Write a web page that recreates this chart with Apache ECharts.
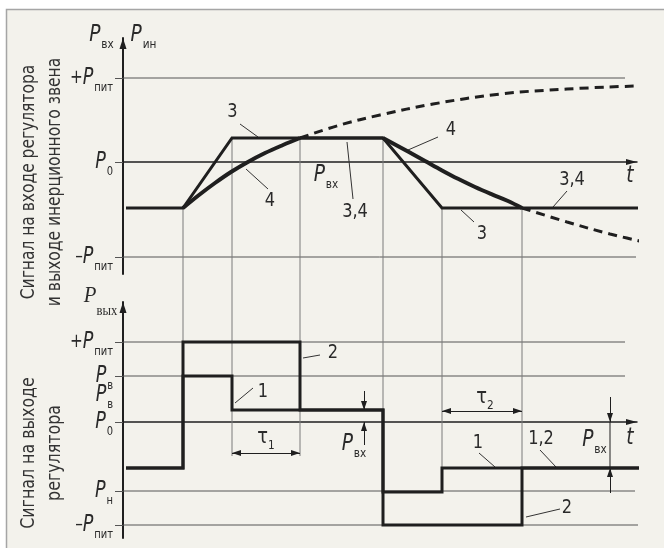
<!DOCTYPE html>
<html>
<head>
<meta charset="utf-8">
<script src="https://cdn.jsdelivr.net/npm/echarts@6/dist/echarts.min.js"></script>
<style>
  html, body { margin: 0; padding: 0; background: #ffffff; }
  #chart { width: 664px; height: 548px; }
</style>
</head>
<body>
<div id="chart"></div>
<script>
// ---------- data (t in time units, levels in signal units, P0 = 0) ----------

// upper panel: regulator input P_вх (trapezoid 3) and inertial-link output P_ин (curve 4)
const upperTickValues = [21, 0, -23.75];
const upperTickLabels = ['{pm|+}{p|P}{s|пит}', '{p|P}{s|0}', '{pm|–}{p|P}{s|пит}'];
const upperRefLevels = [21, -23.75];
const upperRefEnds = [50.2, 51.3];

const curve3 = [[0.3, -11.5], [6.0, -11.5], [10.9, 6], [26.0, 6], [31.9, -11.5], [51.5, -11.5]];
const curve4Rise = [[6.0, -11.5], [7.6, -8.25], [9.2, -5.25], [10.8, -2.5], [12.4, -0.1], [14.2, 2.25], [16.0, 4.25], [17.7, 6]];
const curve4Hold = [[17.7, 6], [26.0, 6]];
const curve4Fall = [[26.0, 6], [28.5, 2.6], [30.2, 0.25], [31.9, -2.1], [33.5, -4.2], [35.2, -6.25], [36.9, -8.1], [38.5, -9.75], [39.9, -11.5]];
const curve4RiseFree = [[17.7, 6], [21.7, 9.25], [25.7, 11.75], [31.0, 14.5], [37.7, 17], [44.4, 18.25], [51.2, 19]];
const curve4FallFree = [[39.9, -11.5], [44.4, -15], [48.7, -18], [53.0, -20.5]];

// lower panel: regulator output P_вых (steps 1 and 2)
const lowerTickValues = [20, 11.5, 6.75, 0, -17.25, -25.75];
const lowerTickLabels = ['{pm|+}{p|P}{s|пит}', '{p|P}{s|в}', '{p|P}{s|в}', '{p|P}{s|0}', '{p|P}{s|н}', '{pm|–}{p|P}{s|пит}'];
const lowerTickMarks = [20, 11.5, 0, -17.25, -25.75];
const lowerRefLevels = [20, 11.5, -17.25, -25.75];
const lowerRefEnds = [50.2, 50.2, 51.2, 52.7];

const output1 = [[0.3, -11.5], [6.0, -11.5], [6.0, 11.5], [10.9, 11.5], [10.9, 3], [26.0, 3], [26.0, -17.5], [31.9, -17.5], [31.9, -11.5], [51.9, -11.5]];
const output2 = [[0.3, -11.5], [6.0, -11.5], [6.0, 20], [17.7, 20], [17.7, 3], [26.0, 3], [26.0, -25.75], [39.9, -25.75], [39.9, -11.5], [51.9, -11.5]];

// projection lines: [t, upper level, lower level]
const projections = [[6.0, -11.5, 20], [10.9, 6, -8.5], [17.7, 6, -8.5], [26.0, 6, 3], [31.9, -11.5, -11.5], [39.9, -11.5, -11.5]];

// captions: [t, level, text]
const upperNotes = [
  [10.95, 12.5, '3'], [14.7, -9.6, '4'], [20.3, -3.25, '{p|P}{s|вх}'], [23.2, -12.5, '3,4'],
  [32.8, 8, '4'], [44.9, -4.5, '3,4'], [35.9, -18, '3'], [50.7, -3.5, '{t|t}'],
  [-2.15, 31.75, '{p|P}{s|вх}'], [2.05, 31.75, '{p|P}{s|ин}']
];
const upperLeaders = [
  [[11.7, 9.5], [13.5, 6.25]], [[14.5, -6.75], [12.3, -1.75]], [[23.0, -9.25], [22.4, 5]],
  [[31.5, 6.25], [28.5, 3]], [[44.4, -7.25], [43.0, -11.25]], [[35.1, -15], [33.8, -12]]
];
const lowerNotes = [
  [21.0, 17.25, '2'], [14.0, 7.5, '1'], [14.3, -3.75, '{tau|τ}{ts|1}'], [23.1, -5.6, '{p|P}{s|вх}'],
  [36.2, 6.25, '{tau|τ}{ts|2}'], [35.5, -5.25, '1'], [41.8, -4.25, '1,2'], [47.15, -4.6, '{p|P}{s|вх}'],
  [50.7, -4, '{t|t}'], [44.4, -21.5, '2'], [-2.25, 31.5, '{ps|P}{ss|вых}']
];
const lowerLeaders = [
  [[19.7, 16.75], [18.0, 16]], [[13.0, 8.5], [11.2, 4.75]], [[35.6, -7.75], [37.2, -11.25]],
  [[41.7, -7], [43.3, -11.25]], [[43.7, -21.75], [40.3, -23.75]]
];
// dimension arrows in the lower panel
const doubleArrows = [[[10.9, -7.75], [17.7, -7.75]], [[31.9, 2.75], [39.9, 2.75]]];
const singleArrows = [[[24.1, 7.75], [24.1, 3]], [[24.1, -5.75], [24.1, 0]], [[48.7, 6.25], [48.7, 0]], [[48.7, -17.75], [48.7, -11.5]]];
const plainDims = [[[48.7, 0], [48.7, -11.5]]];

// ---------- layout ----------
const PX = 4;                      // pixels per level unit, both panels
const GRID_LEFT = 123, GRID_W = 514, PANEL_H = 236;
const UP_TOP = 38, LOW_TOP = 302;
const UP_MIN = -28, UP_MAX = 31, LOW_MIN = -29, LOW_MAX = 30;
const T_MAX = 51.4;
// level offset that carries a lower-panel level into the upper panel's scale
const PANEL_SHIFT = ((LOW_TOP + LOW_MAX * PX) - (UP_TOP + UP_MAX * PX)) / PX;

const FONT = "'Liberation Sans Narrow','Arial Narrow','DejaVu Sans Condensed',sans-serif";
const SERIF = "'Liberation Serif','DejaVu Serif',serif";
const INK = '#1f1f1f';
const TXT = '#2a2a2a';
const THIN = '#555555';
const PROJ = '#7a7a7a';

function tok(o) { return Object.assign({ fill: TXT, color: TXT }, o); }
const rich = {
  p: tok({ fontFamily: FONT, fontStyle: 'italic', fontSize: 23, lineHeight: 44, verticalAlign: 'middle' }),
  pm: tok({ fontFamily: FONT, fontSize: 20, lineHeight: 44, verticalAlign: 'middle' }),
  s: tok({ fontFamily: FONT, fontSize: 13, lineHeight: 13, verticalAlign: 'top', padding: [25, 0, 0, 1] }),
  tau: tok({ fontFamily: FONT, fontSize: 22, lineHeight: 44, verticalAlign: 'middle' }),
  ts: tok({ fontFamily: FONT, fontSize: 13, lineHeight: 13, verticalAlign: 'top', padding: [24, 0, 0, 0] }),
  t: tok({ fontFamily: FONT, fontStyle: 'italic', fontSize: 23, lineHeight: 44, verticalAlign: 'middle' }),
  ps: tok({ fontFamily: SERIF, fontStyle: 'italic', fontSize: 23, lineHeight: 44, verticalAlign: 'middle' }),
  ss: tok({ fontFamily: SERIF, fontSize: 14, lineHeight: 14, verticalAlign: 'top', padding: [30, 0, 0, 0] })
};

function path(gi, data, width, color, extra) {
  return Object.assign({
    type: 'line', xAxisIndex: gi, yAxisIndex: gi, data: data,
    symbol: 'none', clip: false, silent: true, animation: false,
    lineStyle: { width: width, color: color, cap: 'butt', join: 'miter' }, z: 3
  }, extra || {});
}

function arrows(gi, pairs, symbols) {
  return {
    type: 'line', xAxisIndex: gi, yAxisIndex: gi, data: [], silent: true, animation: false,
    markLine: {
      silent: true, animation: false, symbol: symbols, symbolSize: [6, 9],
      symbolOffset: [[0, 4.5], [0, 4.5]],
      lineStyle: { type: 'solid', width: 1, color: INK },
      itemStyle: { color: INK },
      label: { show: false }, emphasis: { disabled: true },
      data: pairs.map(pr => [{ coord: pr[0] }, { coord: pr[1] }])
    }
  };
}

function yAxisFor(gi, min, max, marks) {
  return {
    type: 'value', gridIndex: gi, min: min, max: max,
    axisLine: {
      show: true, onZero: false, lineStyle: { color: INK, width: 2 },
      symbol: ['none', 'triangle'], symbolSize: [7, 11], symbolOffset: [0, -5.5]
    },
    axisTick: { show: true, customValues: marks, length: 8, lineStyle: { color: THIN, width: 1 } },
    axisLabel: { show: false },
    splitLine: { show: false }
  };
}

function xAxisFor(gi) {
  return {
    type: 'value', gridIndex: gi, min: 0, max: T_MAX,
    axisLine: {
      show: true, onZero: true, lineStyle: { color: INK, width: 1.5 },
      symbol: ['none', 'triangle'], symbolSize: [6, 11], symbolOffset: [0, -5.5]
    },
    axisTick: { show: false }, axisLabel: { show: false }, splitLine: { show: false }
  };
}

const series = [];

// reference levels
upperRefLevels.forEach((lv, i) => series.push(path(0, [[0, lv], [upperRefEnds[i], lv]], 1, THIN, { z: 1 })));
lowerRefLevels.forEach((lv, i) => series.push(path(1, [[0, lv], [lowerRefEnds[i], lv]], 1, THIN, { z: 1 })));

// projection lines from the upper panel down into the lower one
projections.forEach(p => series.push(path(0, [[p[0], p[1]], [p[0], p[2] - PANEL_SHIFT]], 1, PROJ, { z: 1 })));

// upper panel curves
const dashed = { width: 3, color: INK, type: [9, 6] };
series.push(path(0, curve3, 3, INK, { z: 4 }));
series.push(path(0, curve4Rise, 4, INK, { smooth: 0.35, z: 4 }));
series.push(path(0, curve4Hold, 3, INK, { z: 4 }));
series.push(path(0, curve4Fall, 4, INK, { smooth: 0.35, z: 4 }));
series.push(path(0, curve4RiseFree, 3, INK, { smooth: 0.35, z: 4, lineStyle: dashed }));
series.push(path(0, curve4FallFree, 3, INK, { smooth: 0.35, z: 4, lineStyle: dashed }));

// lower panel steps
series.push(path(1, output2, 3, INK, { z: 4 }));
series.push(path(1, output1, 3, INK, { z: 4 }));

// leader lines
upperLeaders.forEach(l => series.push(path(0, l, 1, '#333', { z: 2 })));
lowerLeaders.forEach(l => series.push(path(1, l, 1, '#333', { z: 2 })));

// dimension arrows
series.push(arrows(1, doubleArrows, ['triangle', 'triangle']));
series.push(arrows(1, singleArrows, ['none', 'triangle']));
plainDims.forEach(l => series.push(path(1, l, 1, INK, { z: 2 })));

const frame = [
  { type: 'rect', shape: { x: 0, y: 0, width: 664, height: 9 }, style: { fill: '#ffffff' }, silent: true },
  { type: 'rect', shape: { x: 0, y: 0, width: 6, height: 548 }, style: { fill: '#ffffff' }, silent: true },
  { type: 'polyline', shape: { points: [[6.5, 548], [6.5, 9.5], [664, 9.5]] }, style: { stroke: '#a5a5a5', lineWidth: 1.5, fill: null }, silent: true },
  {
    type: 'text', x: 42, y: 182, rotation: Math.PI / 2, scaleX: 0.86, silent: true,
    style: {
      text: 'Сигнал на входе регулятора\nи выходе инерционного звена',
      fontFamily: FONT, fontSize: 20, lineHeight: 26, fill: '#333', align: 'center', verticalAlign: 'middle'
    }
  },
  {
    type: 'text', x: 42, y: 453, rotation: Math.PI / 2, scaleX: 0.88, silent: true,
    style: {
      text: 'Сигнал на выходе\nрегулятора',
      fontFamily: FONT, fontSize: 20, lineHeight: 26, fill: '#333', align: 'center', verticalAlign: 'middle'
    }
  }
];

const option = {
  backgroundColor: '#f3f2ec',
  animation: false,
  grid: [
    { left: GRID_LEFT, top: UP_TOP, width: GRID_W, height: PANEL_H, containLabel: false },
    { left: GRID_LEFT, top: LOW_TOP, width: GRID_W, height: PANEL_H, containLabel: false }
  ],
  xAxis: [xAxisFor(0), xAxisFor(1)],
  yAxis: [
    yAxisFor(0, UP_MIN, UP_MAX, upperTickValues),
    yAxisFor(1, LOW_MIN, LOW_MAX, lowerTickMarks)
  ],
  graphic: frame,
  series: series
};

const chart = echarts.init(document.getElementById('chart'), null, { renderer: 'canvas' });
chart.setOption(option);

// captions and level names, placed through each panel's axes
function caption(gi, t, v, txt, align, dx, sx) {
  const p = chart.convertToPixel({ gridIndex: gi }, [t, v]);
  return {
    type: 'text', x: p[0] + (dx || 0), y: p[1], scaleX: sx || 0.9, silent: true, z: 10,
    style: {
      text: txt, rich: rich, fontFamily: FONT, fontSize: 20, fill: TXT,
      align: align || 'center', verticalAlign: 'middle'
    }
  };
}
const texts = [];
upperNotes.forEach(n => texts.push(caption(0, n[0], n[1], n[2])));
lowerNotes.forEach(n => texts.push(caption(1, n[0], n[1], n[2])));
upperTickValues.forEach((v, i) => texts.push(caption(0, 0, v, upperTickLabels[i], 'right', -10, 0.85)));
lowerTickValues.forEach((v, i) => texts.push(caption(1, 0, v, lowerTickLabels[i], 'right', -10, 0.85)));
chart.setOption({ graphic: frame.concat(texts) });
</script>
</body>
</html>
